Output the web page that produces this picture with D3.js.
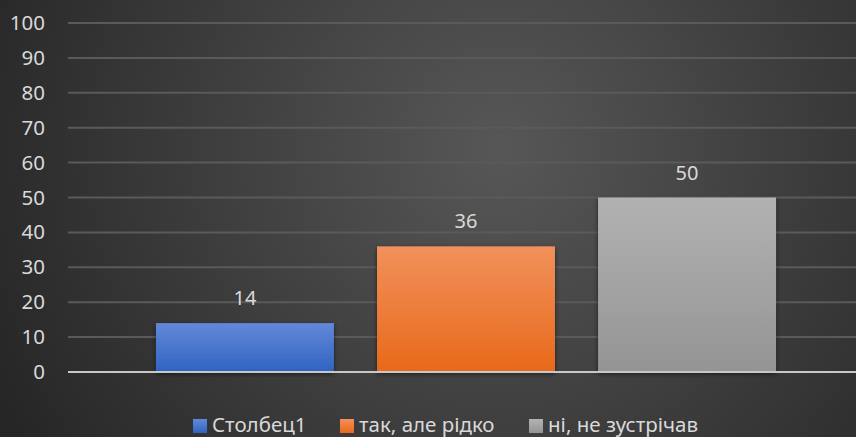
<!DOCTYPE html>
<html>
<head>
<meta charset="utf-8">
<script src="https://cdn.jsdelivr.net/npm/d3@7"></script>
<style>
  body { margin: 0; background: #2b2b2b; }
  svg { display: block; font-family: "Noto Sans", "Open Sans", sans-serif; }
</style>
</head>
<body>
<svg id="chart" width="856" height="437"></svg>
<script>
//  chart data
const categories = ["1"];
const series = ["Столбец1", "так, але рідко", "ні, не зустрічав"];
const values = [14, 36, 50];
const yTicks = [0, 10, 20, 30, 40, 50, 60, 70, 80, 90, 100];
const colorsTop = ["#6389d8", "#f1915b", "#b2b2b2"];
const colorsBottom = ["#2f63c2", "#e8691a", "#949494"];

function draw_chart() {
  const w = 856, h = 437;
  const margin = ({top: 23, right: -8, bottom: 65, left: 68});
  const svg = d3.select("#chart");

  const defs = svg.append("defs");

  //  background radial gradient
  const bg = defs.append("radialGradient")
    .attr("id", "bg")
    .attr("gradientUnits", "userSpaceOnUse")
    .attr("cx", 500).attr("cy", 150).attr("r", 560);
  bg.append("stop").attr("offset", "0%").attr("stop-color", "#575757");
  bg.append("stop").attr("offset", "100%").attr("stop-color", "#262626");

  series.forEach((s, i) => {
    const g = defs.append("linearGradient")
      .attr("id", "grad" + i)
      .attr("x1", 0).attr("y1", 0).attr("x2", 0).attr("y2", 1);
    g.append("stop").attr("offset", "0%").attr("stop-color", colorsTop[i]);
    g.append("stop").attr("offset", "100%").attr("stop-color", colorsBottom[i]);
  });

  const shadow = defs.append("filter").attr("id", "shadow")
    .attr("x", "-10%").attr("y", "-10%").attr("width", "120%").attr("height", "120%");
  shadow.append("feDropShadow")
    .attr("dx", 0).attr("dy", 2).attr("stdDeviation", 2.5)
    .attr("flood-color", "#000").attr("flood-opacity", 0.55);

  svg.append("rect")
    .attr("width", w).attr("height", h)
    .attr("fill", "url(#bg)");

  const x0 = d3.scaleBand().domain(categories)
    .range([margin.left, w - margin.right])
    .paddingInner(0).paddingOuter(0.1419);
  const x1 = d3.scaleBand().domain(series)
    .range([0, x0.bandwidth()])
    .paddingInner(0.195).paddingOuter(0);
  const y = d3.scaleLinear().domain([0, 100]).range([h - margin.bottom, margin.top]);

  //  gridlines
  svg.append("g")
    .selectAll("line")
    .data(yTicks.filter(t => t > 0))
    .join("line")
      .attr("x1", margin.left).attr("x2", w)
      .attr("y1", d => y(d)).attr("y2", d => y(d))
      .attr("stroke", "#5a5a5a")
      .attr("stroke-width", 2);

  //  y axis labels
  const yAxis = g => g
    .attr("transform", `translate(${margin.left - 23},0)`)
    .call(d3.axisLeft(y).tickValues(yTicks).tickSize(0).tickPadding(0))
    .call(g => g.select(".domain").remove());

  svg.append("g")
    .style("font-size", "20.5px")
    .style("font-family", "'Noto Sans', sans-serif")
    .call(yAxis)
    .selectAll("text")
      .attr("fill", "#d9d9d9");

  //  bars
  const bars = svg.append("g");
  categories.forEach(c => {
    series.forEach((s, i) => {
      bars.append("rect")
        .attr("x", x0(c) + x1(s))
        .attr("y", y(values[i]))
        .attr("width", x1.bandwidth())
        .attr("height", y(0) - y(values[i]))
        .attr("fill", "url(#grad" + i + ")")
        .attr("filter", "url(#shadow)");

      svg.append("text")
        .attr("x", x0(c) + x1(s) + x1.bandwidth() / 2)
        .attr("y", y(values[i]) - 18)
        .attr("text-anchor", "middle")
        .style("font-size", "20px")
        .style("fill", "#d9d9d9")
        .text(values[i]);
    });
  });

  //  zero line
  svg.append("line")
    .attr("x1", margin.left).attr("x2", w)
    .attr("y1", y(0)).attr("y2", y(0))
    .attr("stroke", "#c8c8c8")
    .attr("stroke-width", 2);

  //  legend
  const legendX = [193, 340, 529];
  const legend = svg.append("g");
  series.forEach((s, i) => {
    legend.append("rect")
      .attr("x", legendX[i]).attr("y", 419)
      .attr("width", 14).attr("height", 14)
      .attr("fill", "url(#grad" + i + ")");
    legend.append("text")
      .attr("x", legendX[i] + 19).attr("y", 432)
      .style("font-size", "20.5px")
      .style("fill", "#d9d9d9")
      .text(s);
  });
}

draw_chart();
</script>
</body>
</html>
